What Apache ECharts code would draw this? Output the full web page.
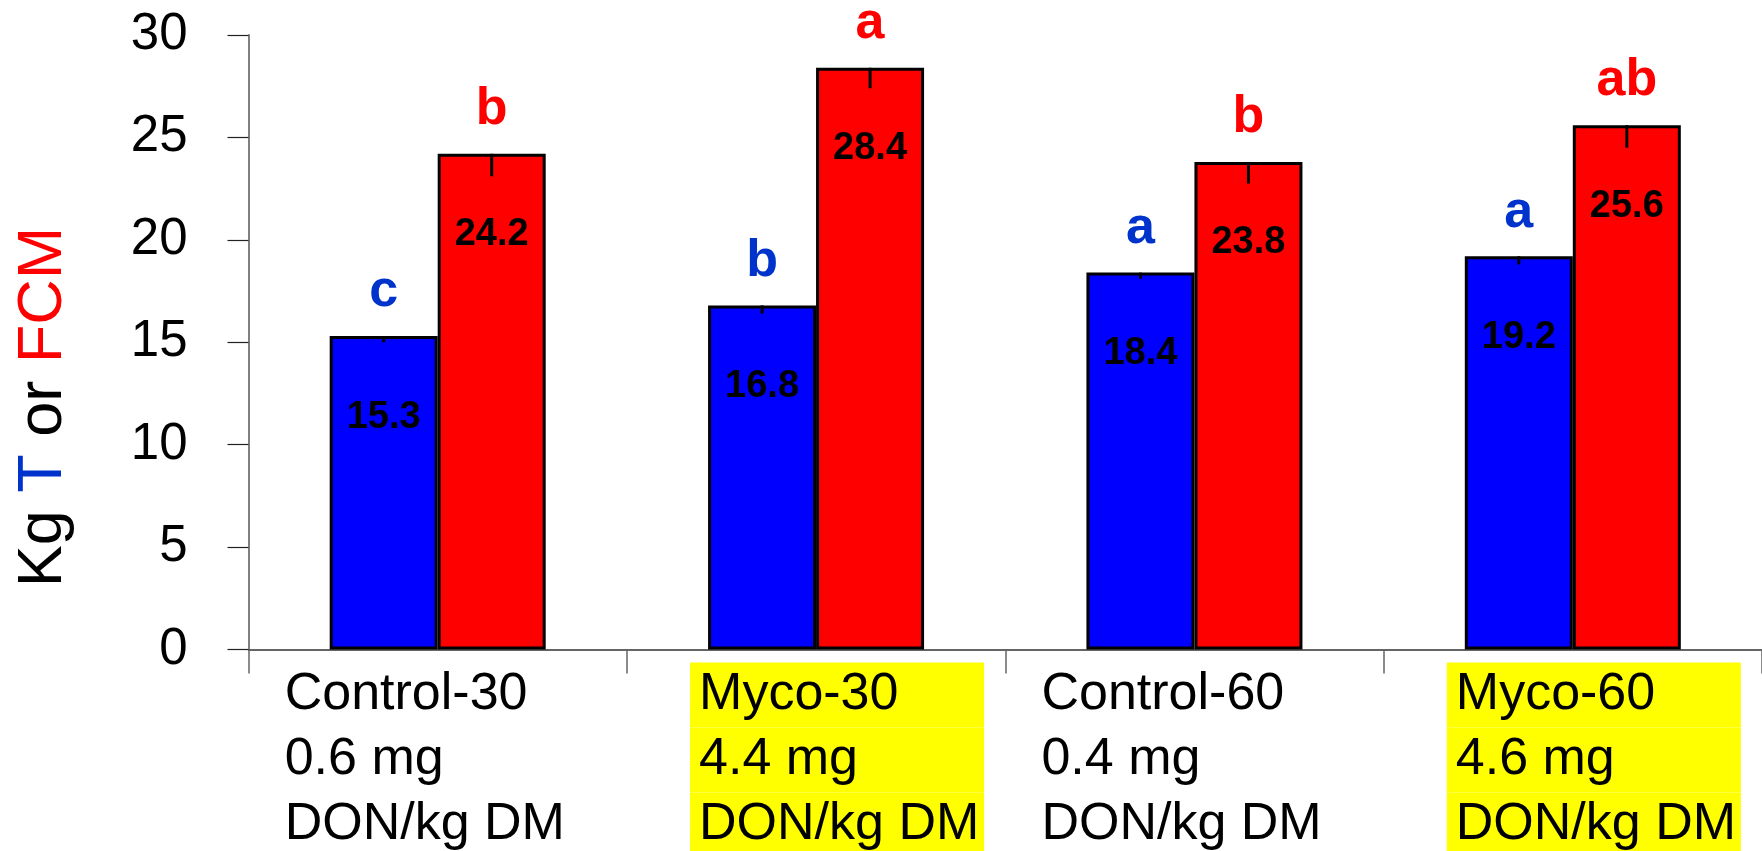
<!DOCTYPE html>
<html>
<head>
<meta charset="utf-8">
<script src="https://cdn.jsdelivr.net/npm/echarts@6/dist/echarts.min.js"></script>
<style>
html, body { margin: 0; padding: 0; background: #fff; }
#chart { width: 1762px; height: 851px; }
</style>
</head>
<body>
<div id="chart"></div>
<script>
// Treatment groups and their DON dose
const groups = ['Control-30', 'Myco-30', 'Control-60', 'Myco-60'];
const doses = ['0.6 mg', '4.4 mg', '0.4 mg', '4.6 mg'];
const doseUnit = 'DON/kg DM';
const isMyco = [false, true, false, true];

// Daily yield, kg: T (blue) and FCM (red)
const tValues = [15.3, 16.8, 18.4, 19.2];
const fcmValues = [24.2, 28.4, 23.8, 25.6];
const tErrors = [0.3, 0.4, 0.3, 0.4];
const fcmErrors = [1.1, 1.0, 1.05, 1.1];
const tLetters = ['c', 'b', 'a', 'a'];
const fcmLetters = ['b', 'a', 'b', 'ab'];

// Value axis
const yMin = 0, yMax = 30, yStep = 5;

const FONT = '"Liberation Sans", Arial, Helvetica, sans-serif';
const BLUE = '#0000FF', RED = '#FF0000';
const LETTER_BLUE = '#0033CC';
const BAR_W = 108;

const chart = echarts.init(document.getElementById('chart'));

// Whisker plus significance letter drawn over each bar
function errorSeries(values, errors, letters, side, letterColor) {
  return {
    type: 'custom',
    z: 5,
    clip: false,
    silent: true,
    data: values.map((v, i) => [i, v]),
    renderItem(params, api) {
      const i = params.dataIndex;
      const top = api.coord([api.value(0), api.value(1)]);
      const low = api.coord([api.value(0), api.value(1) - errors[i]]);
      const x = top[0] + side * BAR_W / 2;
      return {
        type: 'group',
        children: [
          {
            type: 'line',
            shape: { x1: x, y1: top[1], x2: x, y2: low[1] },
            style: { stroke: '#000', lineWidth: 3 }
          },
          {
            type: 'text',
            x: x,
            y: top[1] - 44,
            style: {
              text: letters[i],
              fill: letterColor,
              fontSize: 52,
              fontWeight: 'bold',
              fontFamily: FONT,
              align: 'center',
              verticalAlign: 'middle'
            }
          }
        ]
      };
    }
  };
}

function barSeries(name, values, color) {
  return {
    name: name,
    type: 'bar',
    data: values,
    barWidth: BAR_W,
    barGap: '0%',
    itemStyle: { color: color, borderColor: '#000', borderWidth: 3 },
    label: {
      show: true,
      position: 'insideTop',
      distance: 62,
      formatter: p => p.value.toFixed(1),
      color: '#000',
      fontSize: 38,
      fontWeight: 'bold',
      fontFamily: FONT,
      lineHeight: 38
    }
  };
}

const labelLine = { fontSize: 52, lineHeight: 65, color: '#000', fontFamily: FONT };

const option = {
  animation: false,
  backgroundColor: '#fff',
  grid: { left: 248.5, right: 0, top: 35, bottom: 201.5, containLabel: false, outerBoundsMode: 'none' },
  xAxis: {
    type: 'category',
    data: groups,
    axisLine: { show: true, lineStyle: { color: '#333', width: 1.5 } },
    axisTick: { show: true, length: 24, lineStyle: { color: '#666', width: 1.5 } },
    axisLabel: {
      interval: 0,
      margin: 13,
      align: 'center',
      verticalAlign: 'top',
      formatter: (value, idx) => {
        const lines = [groups[idx], doses[idx], doseUnit];
        if (isMyco[idx]) return lines.map(s => '{sp| }{y|' + s + '}').join('\n');
        return lines.map(s => '{c|' + s + '}').join('\n');
      },
      rich: {
        c: Object.assign({ width: 306, align: 'left' }, labelLine),
        sp: Object.assign({ width: 42, align: 'left' }, labelLine),
        y: Object.assign({ width: 285, height: 65, align: 'left', padding: [0, 0, 0, 9], backgroundColor: '#FFFF00' }, labelLine)
      }
    }
  },
  yAxis: {
    type: 'value',
    min: yMin,
    max: yMax,
    interval: yStep,
    splitLine: { show: false },
    axisLine: { show: true, lineStyle: { color: '#808080', width: 2 } },
    axisTick: { show: true, inside: false, length: 21, lineStyle: { color: '#222', width: 1.2 } },
    axisLabel: { margin: 61, fontSize: 51, color: '#000', fontFamily: FONT }
  },
  graphic: [
    {
      type: 'text',
      x: 44,
      y: 407,
      rotation: Math.PI / 2,
      style: {
        text: '{k|Kg }{t|T}{k| or }{f|FCM}',
        align: 'center',
        verticalAlign: 'middle',
        rich: {
          k: { fontSize: 63, fontFamily: FONT, fill: '#000', color: '#000' },
          t: { fontSize: 63, fontFamily: FONT, fill: LETTER_BLUE, color: LETTER_BLUE },
          f: { fontSize: 63, fontFamily: FONT, fill: RED, color: RED }
        }
      }
    }
  ],
  series: [
    barSeries('T', tValues, BLUE),
    barSeries('FCM', fcmValues, RED),
    errorSeries(tValues, tErrors, tLetters, -1, LETTER_BLUE),
    errorSeries(fcmValues, fcmErrors, fcmLetters, 1, RED)
  ]
};

chart.setOption(option);
</script>
</body>
</html>
